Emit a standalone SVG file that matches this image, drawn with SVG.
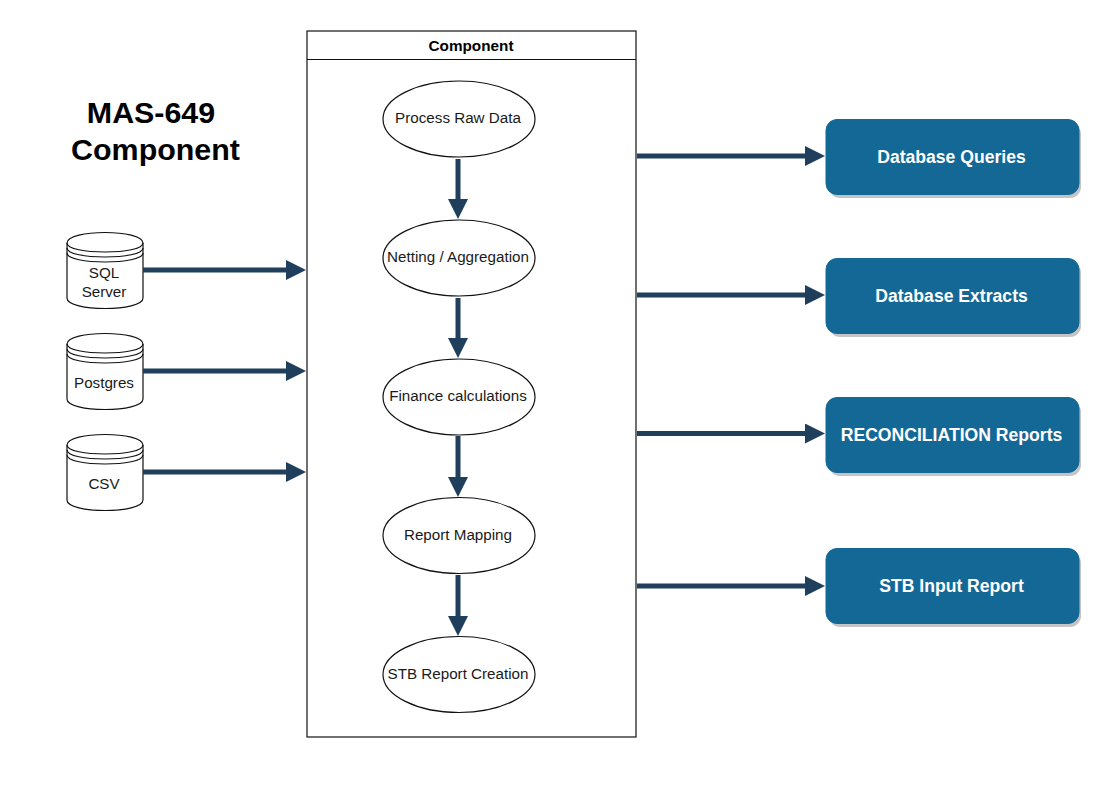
<svg xmlns="http://www.w3.org/2000/svg" width="1099" height="792" viewBox="0 0 1099 792">
<style>
text{font-family:"Liberation Sans",Arial,sans-serif;text-anchor:middle;fill:#1a1a1a}
.s{fill:#fff;stroke:#111;stroke-width:1.2}
.t{font-size:15.2px}
.o{fill:#146896;stroke:#146896;stroke-width:1}
.sh{fill:#b5b5b5;opacity:.8}
.w{font-size:17.6px;font-weight:bold;fill:#fff}
.c{fill:none;stroke:#1f3f5c;stroke-width:5}
.l{fill:none;stroke:#111;stroke-width:1.2}
</style>
<defs>
<marker id="a" markerUnits="userSpaceOnUse" markerWidth="20" markerHeight="20" refX="6" refY="10" orient="auto"><path d="M0 0L20 10L0 20Z" fill="#1f3f5c"/></marker>
<g id="cyl"><path class="s" d="M67 243C67 229 143 229 143 243V298C143 312 67 312 67 298Z"/><path class="l" d="M67 243C67 255 143 255 143 243M67 248C67 260 143 260 143 248M67 253C67 265 143 265 143 253"/></g>
</defs>
<rect width="1099" height="792" fill="#fff"/>
<g id="title"><text x="151" y="123" font-size="30.4" font-weight="bold" style="fill:#000">MAS-649</text><text x="155.500" y="160" font-size="30.4" font-weight="bold" style="fill:#000">Component</text></g>
<g id="component"><rect class="s" x="307" y="31" width="329" height="706"/><path class="l" d="M307 59.500H636"/><text x="471" y="51" font-size="15.300" font-weight="bold" style="fill:#000">Component</text></g>
<g id="sql"><use href="#cyl"/><text class="t" x="104" y="278">SQL</text><text class="t" x="104" y="297">Server</text></g>
<g id="postgres"><use href="#cyl" y="101"/><text class="t" x="104" y="388">Postgres</text></g>
<g id="csv"><use href="#cyl" y="202"/><text class="t" x="104" y="489">CSV</text></g>
<g id="n1"><ellipse class="s" cx="459" cy="119" rx="76" ry="38"/><text class="t" x="458" y="123">Process Raw Data</text></g>
<g id="n2"><ellipse class="s" cx="459" cy="258" rx="76" ry="38"/><text class="t" x="458" y="262">Netting / Aggregation</text></g>
<g id="n3"><ellipse class="s" cx="459" cy="397" rx="76" ry="38"/><text class="t" x="458" y="401">Finance calculations</text></g>
<g id="n4"><ellipse class="s" cx="459" cy="535.500" rx="76" ry="38"/><text class="t" x="458" y="540">Report Mapping</text></g>
<g id="n5"><ellipse class="s" cx="459" cy="674.500" rx="76" ry="38"/><text class="t" x="458" y="679">STB Report Creation</text></g>
<g id="o1"><rect class="sh" x="829" y="123" width="252" height="75" rx="11"/><rect class="o" x="826" y="119.500" width="253" height="75" rx="11"/><text class="w" x="951.500" y="163">Database Queries</text></g>
<g id="o2"><rect class="sh" x="829" y="262" width="252" height="75" rx="11"/><rect class="o" x="826" y="258.500" width="253" height="75" rx="11"/><text class="w" x="951.500" y="302">Database Extracts</text></g>
<g id="o3"><rect class="sh" x="829" y="401" width="252" height="75" rx="11"/><rect class="o" x="826" y="397.500" width="253" height="75" rx="11"/><text class="w" x="951.500" y="441">RECONCILIATION Reports</text></g>
<g id="o4"><rect class="sh" x="829" y="552" width="252" height="75" rx="11"/><rect class="o" x="826" y="548.500" width="253" height="75" rx="11"/><text class="w" x="951.500" y="592">STB Input Report</text></g>
<g id="connectors">
<path class="c" marker-end="url(#a)" d="M143 270H292"/>
<path class="c" marker-end="url(#a)" d="M143 371H292"/>
<path class="c" marker-end="url(#a)" d="M143 472H292"/>
<path class="c" marker-end="url(#a)" d="M637 156H811"/>
<path class="c" marker-end="url(#a)" d="M637 295H811"/>
<path class="c" marker-end="url(#a)" d="M637 433.500H811"/>
<path class="c" marker-end="url(#a)" d="M637 586H811"/>
<path class="c" marker-end="url(#a)" d="M458 159V205"/>
<path class="c" marker-end="url(#a)" d="M458 298V344"/>
<path class="c" marker-end="url(#a)" d="M458 436V483"/>
<path class="c" marker-end="url(#a)" d="M458 575V622"/>
</g>
</svg>
